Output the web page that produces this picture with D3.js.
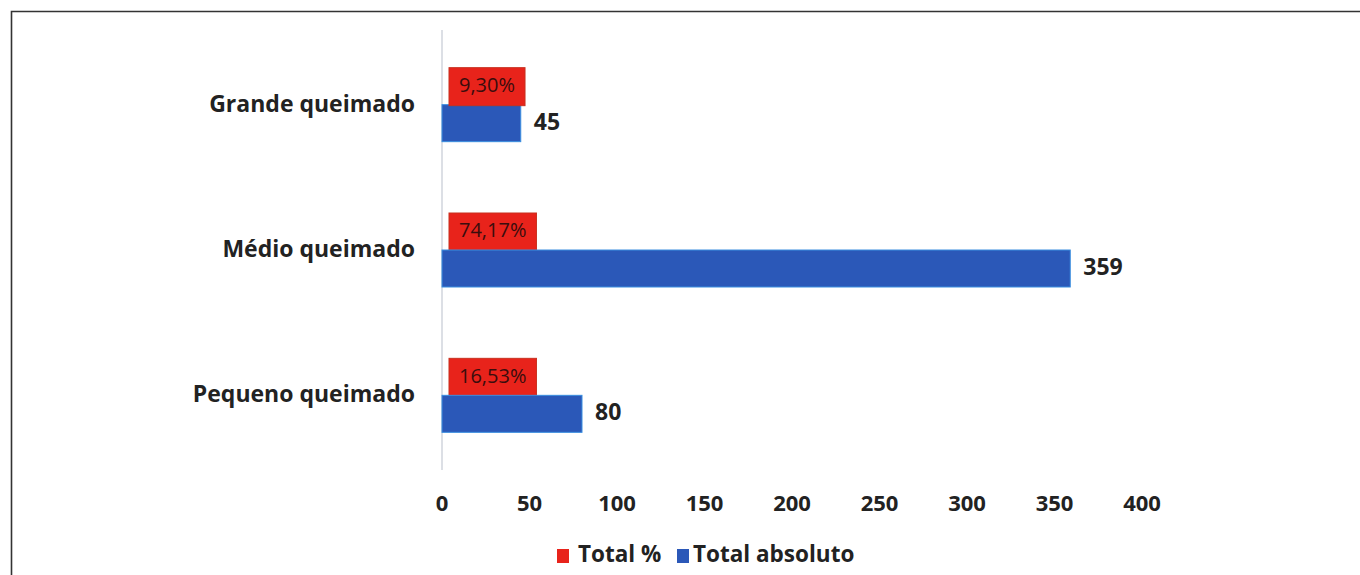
<!DOCTYPE html>
<html><head><meta charset="utf-8">
<script src="https://cdn.jsdelivr.net/npm/d3@7"></script>
<style>
html,body{margin:0;padding:0;background:#fff;}
svg{display:block;font-family:"Open Sans",sans-serif;}
</style></head>
<body>
<svg id="c" width="1360" height="575"></svg>
<script>
const categories = ["Grande queimado", "Médio queimado", "Pequeno queimado"];
const totalAbsoluto = [45, 359, 80];
const totalPercent = [9.30, 74.17, 16.53];
const percentLabels = ["9,30%", "74,17%", "16,53%"];
const xTicks = [0, 50, 100, 150, 200, 250, 300, 350, 400];
const seriesNames = ["Total %", "Total absoluto"];
const colors = {red: "#e8231b", blue: "#2b58b8", text: "#222"};

const svg = d3.select("#c");

// frame
svg.append("path").attr("d", "M11.5,575 V11.5 H1360").attr("fill","none").attr("stroke","#333").attr("stroke-width",1.6);

const x = d3.scaleLinear().domain([0, 400]).range([442, 1142]);
const y = d3.scaleBand().domain(categories).range([33, 469]);

// vertical axis line
svg.append("line").attr("x1", x(0)).attr("x2", x(0)).attr("y1", 30).attr("y2", 470)
  .attr("stroke", "#d0d4dc").attr("stroke-width", 1.5);

const barH = 37;
const g = svg.append("g");
categories.forEach((c, i) => {
  const cy = y(c) + y.bandwidth() / 2;
  // blue bar (Total absoluto)
  g.append("rect").attr("x", x(0)).attr("y", cy - 1).attr("width", x(totalAbsoluto[i]) - x(0)).attr("height", barH)
    .attr("fill", colors.blue).attr("stroke", "#3a8ee0").attr("stroke-width", 1);
  g.append("text").attr("x", x(totalAbsoluto[i]) + 13).attr("y", cy + 18).attr("dominant-baseline", "middle")
    .attr("font-size", 23).attr("font-weight", 700).attr("fill", colors.text).text(totalAbsoluto[i]);
  // red label box (Total %)
  const t = g.append("text").attr("x", x(0) + 17).attr("y", cy - 19).attr("dominant-baseline", "middle")
    .attr("font-size", 20).attr("fill", "#3a0d0d").text(percentLabels[i]);
  const bb = t.node().getBBox();
  g.insert("rect", "text").attr("x", x(0) + 7).attr("y", cy - 38).attr("width", bb.width + 20).attr("height", 38)
    .attr("fill", colors.red).attr("stroke", "#c8301e").attr("stroke-width", 1);
  // category label
  svg.append("text").attr("x", 415).attr("y", cy).attr("text-anchor", "end").attr("dominant-baseline", "middle")
    .attr("font-size", 23).attr("font-weight", 700).attr("fill", colors.text).text(c);
});
g.selectAll("text").raise();

// x axis ticks
svg.append("g").selectAll("text").data(xTicks).join("text")
  .attr("x", d => x(d)).attr("y", 505).attr("text-anchor", "middle").attr("dominant-baseline", "middle")
  .attr("font-size", 22).attr("font-weight", 700).attr("fill", colors.text).text(d => d);

// legend
const leg = svg.append("g");
leg.append("rect").attr("x", 557).attr("y", 549).attr("width", 12).attr("height", 14).attr("fill", colors.red);
leg.append("text").attr("x", 578).attr("y", 556).attr("dominant-baseline", "middle").attr("font-size", 22.5)
  .attr("font-weight", 700).attr("fill", colors.text).text(seriesNames[0]);
leg.append("rect").attr("x", 677).attr("y", 549).attr("width", 12).attr("height", 14).attr("fill", colors.blue);
leg.append("text").attr("x", 693).attr("y", 556).attr("dominant-baseline", "middle").attr("font-size", 22.5)
  .attr("font-weight", 700).attr("fill", colors.text).text(seriesNames[1]);
</script>
</body></html>
